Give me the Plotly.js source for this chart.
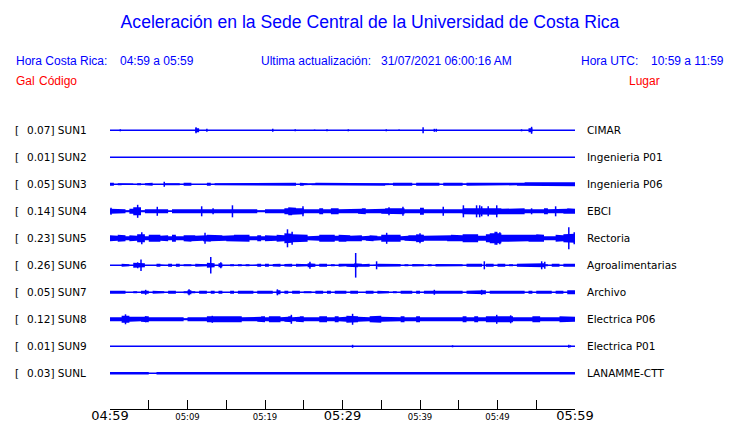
<!DOCTYPE html>
<html><head><meta charset="utf-8">
<script src="https://cdn.plot.ly/plotly-3.0.1.min.js"></script>
<style>html,body{margin:0;padding:0;background:#fff}</style>
</head><body><div id="chart" style="width:740px;height:423px"></div>
<script>
// ---------- data ----------
const codes  = ['SUN1','SUN2','SUN3','SUN4','SUN5','SUN6','SUN7','SUN8','SUN9','SUNL'];
const peaks  = ['0.07','0.01','0.05','0.14','0.23','0.26','0.05','0.12','0.01','0.03'];
const places = ['CIMAR','Ingenieria P01','Ingenieria P06','EBCI','Rectoria','Agroalimentarias','Archivo','Electrica P06','Electrica P01','LANAMME-CTT'];

const tickMinutes = [0,5,10,15,20,25,30,35,40,45,50,55,60];
const tickLabels  = ['04:59','','05:09','','05:19','','05:29','','05:39','','05:49','','05:59'];
const majorLabels = ['04:59','05:29','05:59'];

// envelope half-amplitude per half-minute (120 per station, relative units)
const bandSUN1 = [0,0,0,0,0,0,0,0,0,0, 0,0,0,0,0,0,0,0,0,0, 0,0,2,0,0,0,0,0,0,0, 0,0,0,0,0,0,0,0,0,0,
  0,0,0,0,0,0,0,0,0,0, 0,0,0,0,0,0,0,0,0,0, 0,0,0,0,0,0,0,0,0,0, 0,0,0,0,0,0,0,0,0,0,
  0,0,0,0,0,0,0,0,0,0, 0,0,0,0,0,0,0,0,0,0, 0,0,0,0,0,0,0,0,2,0, 0,0,0,0,0,0,0,0,0,0];
const bandSUN2 = [];
const bandSUN3 = [1.5,0,1,0.7,0.7,0.7,0,1,0,1, 1.5,0,0,0,1,1,0.7,1,0,1.5, 1.5,0,0,0,0,1.5,0,1,1,1, 1,1,1,1.5,1.5,1.5,1,1.5,1.5,1.5,
  1.5,1.5,1.5,1.5,1.5,1.5,1.5,1.5,0,1.5, 1,0.7,1,1.5,1.5,1,1.5,1.5,1.5,1.5, 1.5,1.5,1.5,1,1,1.5,1.5,1,1.5,1, 1.5,1,0.7,1.5,1,1.5,1,1.5,0,1.5,
  1.5,1,1,1.5,1.5,0,1.5,1.5,1.5,1.5, 1.5,0.7,1.5,1,1.5,1.5,1.5,1,1.5,1.5, 1.5,1.5,1.5,1,1,1.5,1.5,2,2,2, 2,2,2,2,2,2,2,2,2,2];
const bandSUN4 = [2.5,2,2.5,2,1,2.5,4,4,1,2, 2,2,2.5,2,2,0.7,2,2,2.5,2.5, 2,2,2,2.5,2,2,2.5,2,2.5,2, 2,2,2,2,2,2,2,2,1,1,
  2,2,2,2,2,3,4,3.5,3,3, 2,2,2,2,3,2,2,3,3,2, 2,2,2,2,2.5,3,2,2,2,2, 2.5,3,3,3,2.5,3,2,1.5,1.5,2,
  3.5,2,2,2,2,2,2.5,2,2,2, 2,3,3.5,3,3.5,3.5,3.5,3.5,3.5,3.5, 3,2.5,2.5,2.5,2.5,2.5,3,2,2.5,2, 2,2,3,2,2,2,2,2.5,3,2.5];
const bandSUN5 = [3,2.5,3.5,3,2,3,2.5,4,4,2, 3.5,4,3.5,2.5,3,2,3.5,2,2,3, 3.5,3,2.5,2.5,3,3.5,3,3,3,2.5, 3,3,3.5,3,3.5,3.5,2,2,3,2,
  3,3,2.5,3.5,3,5,4.5,4,3.5,3.5, 3.5,2,2,2.5,3.5,3.5,3,3.5,2.5,3.5, 3.5,3,2.5,3,3,2,2.5,3,2.5,2, 3.5,4,3.5,3.5,3.5,2,2.5,3,3,4,
  3.5,2.5,2.5,3,3,2.5,2.5,3,3.5,3.5, 3,4,3.5,3.5,4,2.5,2.5,4,5,5.5, 5,3.5,3,3.5,3,3,3,3,3.5,3.5, 4,3.5,2,2,2,3.5,3,4,4,4.5];
const bandSUN6 = [0,0,0,1.5,1,0,2.5,2.5,2,0, 0,0,1.5,0.7,0,1.5,0,1.5,0,1, 1,0,1.5,1.5,1,2.5,2,0,2,0, 0,1,0,1,0,1,0,0.7,1.5,0,
  1.5,0,1.3,1.5,0,1.3,1.5,0,1.5,1.5, 1,2,1.5,0,1.5,1.5,0,1,0,1.5, 1,1.5,1.5,2,1.5,1,1.5,0,0.7,1.5, 1.5,1.5,1.3,1.3,1.3,0,1,0,1.3,1.3,
  1,0,1,0,1.3,1.3,1.3,1.3,1,1.3, 1,0,1.5,1.5,1.5,1.5,0,1.5,1.5,0, 1.5,1.5,0,1,0,1.5,1.5,1.5,1.5,2, 2,2,1,0,1.5,1.5,0,1.5,1.5,1.5];
const bandSUN7 = [1.5,1.5,1.5,1.5,0,0,1,0,1.5,1.5, 0,1.5,1.5,1,0,1.5,1.5,0,0,1, 2,1,0,1.5,1.5,0,1.5,0,1.5,0, 0,1.5,0,1.5,1.5,1.5,1.5,0,1.5,1,
  1,1.5,0,2,0,1.5,0,1.5,1.5,0, 1,1,0,1.5,1.5,0,1.5,0,1.5,1.5, 1.5,0,1.5,1.5,0,0,1.5,1.5,0,1.5, 1.5,1,0,1,0,1.5,1.5,1.5,0,1.5,
  0,1.5,1.5,1.5,1.5,1.5,1.5,1.5,1.5,1.5, 1.5,0,1.5,1.5,1.5,2,2,0,1.5,1.5, 1.5,1.5,1.5,1.5,1.5,1.5,1.5,0,1.5,0, 1.5,1.5,1.5,1.5,0,1.5,1.5,0,2,2];
const bandSUN8 = [2,2.5,2,3.5,3.5,2.5,2.5,2,2.5,3, 2,2,2,2,2,2,2,2,2,1, 2,2.5,2,2,2,3,3,3,2.5,3, 3,2.5,3,3,2,2,2,2,2.5,3,
  2,3,3.5,3,2,2.5,3,2,2.5,3, 2,2,2,2,3,3,2,2,3,2, 2.5,3.5,3.5,3,2.5,2,2,3,3.5,3.5, 2.5,2,2,2,2,3,2,2,2,3,
  2,2,2.5,2,2,2,2,2,2.5,2, 2,3,2,2,3,2,2,3,3.5,3.5, 3,3,3.5,3,2,2,2,2,2,3, 3,2,2,2,2,2,3,3,3,2.5];
const bandSUN9 = [];
const bandSUNL = [1.3,1.3,1.3,1,1.3,1.3,1.3,1,1.3,1.3, 0,0,1.3,1.3,1.3,0.7,1.3,1.3,1.3,1.3, 1.3,1.3,1.3,1.3,1.3,1,1.3,1.3,1.3,1.3, 1.3,1.3,1.3,1,1.3,1.3,1.3,1.3,1.3,1.3,
  1.3,1.3,1.3,1.3,1.3,1.3,1.3,1.3,1,1.3, 1.3,1.3,1.3,1.3,1.3,1.3,1.3,1,1.3,1.3, 1.3,1.3,1.3,1.3,1.3,1.3,1.3,1.3,1.3,1.3, 1.3,1,1.3,1.3,1.3,1.3,1.3,1.3,1.3,1.3,
  1.3,1.3,1.3,1.3,1.3,1.3,1,1.3,1.3,1.3, 1.3,1.3,1.3,1.3,1.3,1,1.3,1.3,1.3,1.3, 1.3,1.3,1.3,1.3,1,1.3,1.3,1.3,1.3,1.3, 1.3,1.3,1.3,1,1.3,1.3,1.3,1.3,1.3,1.3];

// isolated peaks: [minute, half-amplitude]
const spikesSUN1 = [[1.33,1],[11.1,3],[12.5,1.5],[21.0,1.5],[23.9,1],[26.4,0.7],[28.0,1],[30.75,1],[35.65,1],[37.3,0.7],[40.4,3],[41.85,1.5],[42.1,1.5],[53.1,1],[54.4,3.5]];
const spikesSUN2 = [];
const spikesSUN3 = [[7.0,2.5]];
const spikesSUN4 = [[0.13,3.5],[3.57,6.5],[6.1,4.5],[11.83,5],[13.3,3],[15.8,6],[24.9,5],[36.0,4],[37.8,4.5],[43.0,4.5],[45.6,6],[47.3,6],[47.7,6],[47.96,5],[48.8,5],[49.9,6],[54.4,3],[57.5,5]];
const spikesSUN5 = [[4.1,6],[12.26,5.5],[22.9,9],[23.5,6.5],[35.7,5.5],[40.0,5],[49.7,6.5],[49.9,6.5],[50.3,6],[59.2,11],[59.9,6]];
const spikesSUN6 = [[3.57,3],[4.0,5.7],[13.0,8.3],[14.3,3],[25.8,3.5],[31.7,12.3],[34.4,4],[48.3,4],[55.7,4],[56.1,3.5]];
const spikesSUN7 = [[4.6,2.5],[10.2,3],[21.6,3],[41.85,2.5],[47.96,2.5]];
const spikesSUN8 = [[2.0,5],[4.6,3],[13.2,3.5],[23.4,4.5],[31.3,5.5],[49.9,4.5],[51.7,4]];
const spikesSUN9 = [[31.3,1.5],[44.2,1],[59.2,1.5],[59.4,1]];
const spikesSUNL = [];

const bands  = [bandSUN1,bandSUN2,bandSUN3,bandSUN4,bandSUN5,bandSUN6,bandSUN7,bandSUN8,bandSUN9,bandSUNL];
const spikes = [spikesSUN1,spikesSUN2,spikesSUN3,spikesSUN4,spikesSUN5,spikesSUN6,spikesSUN7,spikesSUN8,spikesSUN9,spikesSUNL];

// ---------- layout constants ----------
const BLUE = '#0000ff', RED = '#ff0000';
const L = 110, R = 575, T = 115, B = 409, W = 740, H = 423;
const AMP = 1/27;      // envelope unit -> row units
const BIN = 0.5;       // minutes per envelope value
const px = p => (p - L) / (R - L);
const py = p => (B - p) / (B - T);

const traces = [];
codes.forEach((c, i) => {
  const base = codes.length - i;
  traces.push({x:[0,60], y:[base,base], mode:'lines', line:{color:BLUE,width:1.4}, hoverinfo:'skip', showlegend:false});
  const band = bands[i];
  if (band.length) {
    const xs = [], ys = [];
    for (let k = 0; k < band.length; k++) { xs.push(k*BIN,(k+1)*BIN); ys.push(base+band[k]*AMP, base+band[k]*AMP); }
    for (let k = band.length-1; k >= 0; k--) { xs.push((k+1)*BIN,k*BIN); ys.push(base-band[k]*AMP, base-band[k]*AMP); }
    traces.push({x:xs, y:ys, mode:'lines', fill:'toself', fillcolor:BLUE, line:{width:0,color:BLUE}, hoverinfo:'skip', showlegend:false});
  }
  const sp = spikes[i];
  if (sp.length) {
    const xs = [], ys = [];
    sp.forEach(([t,a]) => { xs.push(t,t,null); ys.push(base-a*AMP, base+a*AMP, null); });
    traces.push({x:xs, y:ys, mode:'lines', line:{color:BLUE,width:1.5}, hoverinfo:'skip', showlegend:false, connectgaps:false});
  }
});

const lbl = {family:'DejaVu Sans', size:10.5, color:'#000'};
const hdr = (s,c) => ({family:'Liberation Sans, Arial', size:s, color:c});
const annotations = [];
codes.forEach((c, i) => {
  const base = codes.length - i;
  annotations.push({xref:'paper', yref:'y', x:px(14), y:base, text:'[', showarrow:false, xanchor:'left', yanchor:'middle', font:lbl, borderpad:0});
  annotations.push({xref:'paper', yref:'y', x:px(26), y:base, text:peaks[i]+'] '+c, showarrow:false, xanchor:'left', yanchor:'middle', font:lbl, borderpad:0});
  annotations.push({xref:'paper', yref:'y', x:px(586), y:base, text:places[i], showarrow:false, xanchor:'left', yanchor:'middle', font:lbl, borderpad:0});
});
const headerItems = [
  ['Hora Costa Rica:', 15, 61, BLUE], ['04:59 a 05:59', 119, 61, BLUE],
  ['Ultima actualización:', 260, 61, BLUE], ['31/07/2021 06:00:16 AM', 380, 61, BLUE],
  ['Hora UTC:', 580, 61, BLUE], ['10:59 a 11:59', 650, 61, BLUE],
  ['Gal', 15, 81, RED], ['Código', 38, 81, RED], ['Lugar', 628, 81, RED]
];
headerItems.forEach(([t,x,y,c]) => annotations.push({xref:'paper', yref:'paper', x:px(x), y:py(y), text:t, showarrow:false, xanchor:'left', yanchor:'middle', font:hdr(12,c), borderpad:0}));

const layout = {
  width: W, height: H,
  margin: {l:L, r:W-R, t:T, b:H-B, pad:0},
  paper_bgcolor:'#fff', plot_bgcolor:'#fff',
  title: {text:'Aceleración en la Sede Central de la Universidad de Costa Rica', font:hdr(17.6,BLUE), x:0.5, xanchor:'center', y:1-22/H, yanchor:'middle'},
  xaxis: {range:[0,60], showgrid:false, zeroline:false, showline:true, linecolor:'#000', linewidth:1, mirror:false,
          ticks:'inside', ticklen:9, tickcolor:'#000', tickwidth:1,
          tickmode:'array', tickvals:tickMinutes,
          ticktext: tickLabels.map(t => majorLabels.includes(t) ? '<span style="font-size:13px">'+t+'</span>' : t),
          tickfont:{family:'DejaVu Sans', size:8.5, color:'#000'}, fixedrange:true},
  yaxis: {range:[1-(B-373.3)/27, 10+(130.3-T)/27], visible:false, fixedrange:true},
  annotations: annotations,
  showlegend:false
};
Plotly.newPlot('chart', traces, layout, {staticPlot:true, displayModeBar:false});
</script></body></html>
